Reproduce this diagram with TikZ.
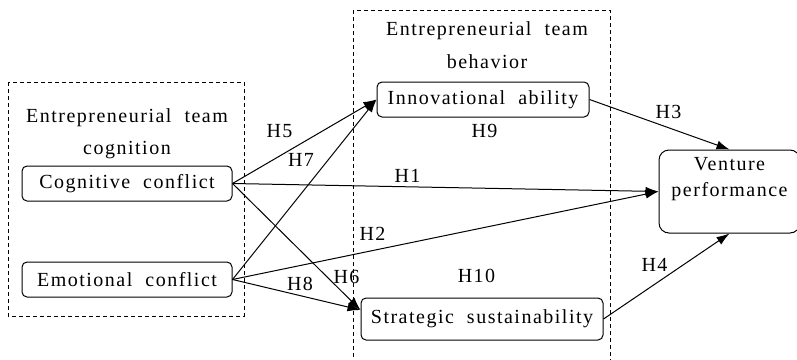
\documentclass[tikz,border=0pt]{standalone}
\usepackage{fontspec}
\setmainfont{Liberation Serif}[LetterSpace=7.5,WordSpace=2]
\usetikzlibrary{positioning, arrows.meta}

\begin{document}
\begin{tikzpicture}[x=1pt, y=-1pt,
		font=\fontsize{20}{26}\selectfont,
		box/.style={draw, rounded corners=5pt, line width=1pt, minimum height=35pt, inner sep=0pt},
		group/.style={draw, line width=0.8pt, dash pattern=on 4pt off 3pt},
		link/.style={-{Latex[length=13pt,width=9pt]}, line width=1pt}]
		\useasboundingbox (0,0) rectangle (797,359);
		
		% dashed groups
		\draw[group] (8,82) rectangle (244,316);
		\draw[group] (353,10) rectangle (610,380);
		\node[align=center] (cogtitle) at (127,134) {Entrepreneurial team\\[6pt]cognition};
		\node[align=center] (behtitle) at (487,45) {Entrepreneurial team\\[7pt]behavior};
		
		\node[box, minimum width=210pt] (cog) at (127,183.5) {Cognitive conflict};
		\node[box, minimum width=210pt, below=60pt of cog] (emo) {Emotional conflict};
		\node[box, minimum width=212pt] (innov) at (483,99.5) {Innovational ability};
		\node[box, minimum width=242pt, minimum height=42pt] (strat) at (482,319) {Strategic sustainability};
		\node[box, rounded corners=10pt, minimum width=141pt, minimum height=83pt, align=center, text depth=30pt] (venture) at (729.5,191.5) {Venture\\performance};
		
		\draw[link] (cog.east) -- (innov.west);
		\draw[link] (cog.east) -- ([yshift=9pt]strat.west);
		\draw[link] (emo.east) -- (innov.west);
		\draw[link] (emo.east) -- ([yshift=9pt]strat.west);
		\draw[link] (cog.east) -- (venture.west);
		\draw[link] (emo.east) -- (venture.west);
		\draw[link] (innov.east) -- (venture.north);
		\draw[link] (strat.east) -- (venture.south);
		
		\node (h1) at (407.5,175.5) {H1};
		\node (h2) at (372.5,233.5) {H2};
		\node (h3) at (668.5,112) {H3};
		\node (h4) at (654.5,265) {H4};
		\node (h5) at (279.5,131.5) {H5};
		\node (h6) at (346.5,277) {H6};
		\node (h7) at (301,160) {H7};
		\node (h8) at (300,284) {H8};
		\node (h9) at (484.5,131) {H9};
		\node (h10) at (476.5,275.5) {H10};
	\end{tikzpicture}
\end{document}
